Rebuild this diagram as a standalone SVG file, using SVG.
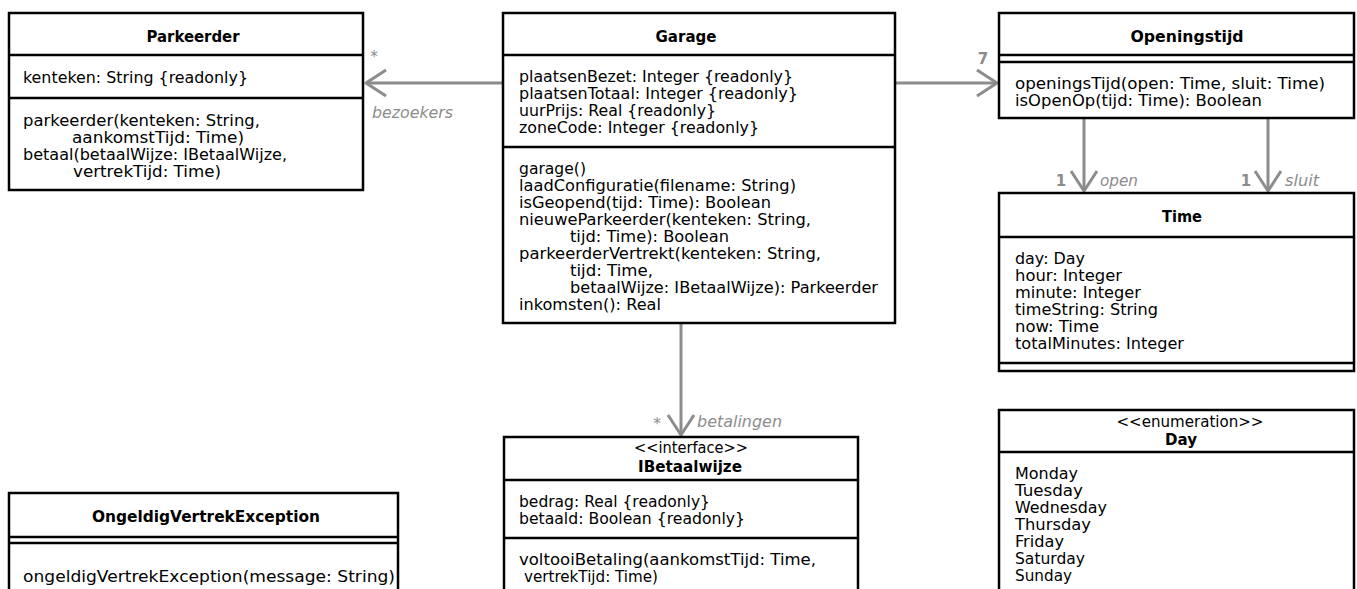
<svg xmlns="http://www.w3.org/2000/svg" width="1357" height="589" viewBox="0 0 1357 589">
<style>
.box{fill:#fff;stroke:#000;stroke-width:2.5}
.sep{stroke:#000;stroke-width:2.5}
.t{font-family:"DejaVu Sans","Liberation Sans",sans-serif;font-size:15.5px;fill:#000}
.h{font-family:"DejaVu Sans","Liberation Sans",sans-serif;font-size:15px;font-weight:bold;fill:#000;text-anchor:middle}
.st{text-anchor:middle}
.conn{stroke:#8c8c8c;stroke-width:3;fill:none;marker-end:url(#arr)}
.lbl{font-family:"DejaVu Sans","Liberation Sans",sans-serif;font-size:15.5px;fill:#8c8c8c}
.it{font-style:italic}
.m{font-weight:bold;text-anchor:middle;font-size:15px}
</style>
<defs>
<marker id="arr" markerUnits="userSpaceOnUse" markerWidth="30" markerHeight="30" refX="22" refY="15" orient="auto" viewBox="0 0 30 30">
<path d="M2,2 L22,15 L2,28" fill="none" stroke="#8c8c8c" stroke-width="3" stroke-linejoin="round"/>
</marker>
</defs>
<rect width="1357" height="589" fill="#fff"/>

<g id="connectors">
<path class="conn" d="M503,83 H366"/>
<path class="conn" d="M895,83 H997"/>
<path class="conn" d="M1084,118 V191"/>
<path class="conn" d="M1268,118 V191"/>
<path class="conn" d="M681,323 V435"/>
<text class="lbl st" x="374" y="62">*</text>
<text class="lbl it" x="372" y="118" textLength="81" lengthAdjust="spacingAndGlyphs">bezoekers</text>
<text class="lbl m" x="983" y="64">7</text>
<text class="lbl m" x="1061" y="186">1</text>
<text class="lbl it" x="1100" y="186" textLength="38" lengthAdjust="spacingAndGlyphs">open</text>
<text class="lbl m" x="1246" y="186">1</text>
<text class="lbl it" x="1285" y="186" textLength="34" lengthAdjust="spacingAndGlyphs">sluit</text>
<text class="lbl st" x="657" y="429">*</text>
<text class="lbl it" x="697" y="427" textLength="85" lengthAdjust="spacingAndGlyphs">betalingen</text>
</g>

<g id="Parkeerder">
<rect class="box" x="9" y="13" width="354" height="177"/>
<line class="sep" x1="9" y1="55" x2="363" y2="55"/>
<line class="sep" x1="9" y1="98" x2="363" y2="98"/>
<text class="h" x="193" y="42" textLength="93" lengthAdjust="spacingAndGlyphs">Parkeerder</text>
<text class="t" x="23" y="83" textLength="225" lengthAdjust="spacingAndGlyphs">kenteken: String {readonly}</text>
<text class="t" x="23" y="126" textLength="237" lengthAdjust="spacingAndGlyphs">parkeerder(kenteken: String,</text>
<text class="t" x="72" y="143" textLength="172" lengthAdjust="spacingAndGlyphs">aankomstTijd: Time)</text>
<text class="t" x="23" y="160" textLength="264" lengthAdjust="spacingAndGlyphs">betaal(betaalWijze: IBetaalWijze,</text>
<text class="t" x="73" y="177" textLength="148" lengthAdjust="spacingAndGlyphs">vertrekTijd: Time)</text>
</g>

<g id="Garage">
<rect class="box" x="503" y="13" width="392" height="310"/>
<line class="sep" x1="503" y1="55" x2="895" y2="55"/>
<line class="sep" x1="503" y1="147" x2="895" y2="147"/>
<text class="h" x="686" y="42" textLength="61" lengthAdjust="spacingAndGlyphs">Garage</text>
<text class="t" x="519" y="82" textLength="274" lengthAdjust="spacingAndGlyphs">plaatsenBezet: Integer {readonly}</text>
<text class="t" x="519" y="99" textLength="279" lengthAdjust="spacingAndGlyphs">plaatsenTotaal: Integer {readonly}</text>
<text class="t" x="519" y="116" textLength="197" lengthAdjust="spacingAndGlyphs">uurPrijs: Real {readonly}</text>
<text class="t" x="519" y="133" textLength="240" lengthAdjust="spacingAndGlyphs">zoneCode: Integer {readonly}</text>
<text class="t" x="519" y="174" textLength="67" lengthAdjust="spacingAndGlyphs">garage()</text>
<text class="t" x="519" y="191" textLength="277" lengthAdjust="spacingAndGlyphs">laadConfiguratie(filename: String)</text>
<text class="t" x="519" y="208" textLength="252" lengthAdjust="spacingAndGlyphs">isGeopend(tijd: Time): Boolean</text>
<text class="t" x="519" y="225" textLength="292" lengthAdjust="spacingAndGlyphs">nieuweParkeerder(kenteken: String,</text>
<text class="t" x="570" y="242" textLength="159" lengthAdjust="spacingAndGlyphs">tijd: Time): Boolean</text>
<text class="t" x="519" y="259" textLength="302" lengthAdjust="spacingAndGlyphs">parkeerderVertrekt(kenteken: String,</text>
<text class="t" x="570" y="276" textLength="83" lengthAdjust="spacingAndGlyphs">tijd: Time,</text>
<text class="t" x="570" y="293" textLength="308" lengthAdjust="spacingAndGlyphs">betaalWijze: IBetaalWijze): Parkeerder</text>
<text class="t" x="519" y="310" textLength="142" lengthAdjust="spacingAndGlyphs">inkomsten(): Real</text>
</g>

<g id="Openingstijd">
<rect class="box" x="999" y="13" width="355" height="105"/>
<line class="sep" x1="999" y1="55" x2="1354" y2="55"/>
<line class="sep" x1="999" y1="62" x2="1354" y2="62"/>
<text class="h" x="1187" y="42" textLength="113" lengthAdjust="spacingAndGlyphs">Openingstijd</text>
<text class="t" x="1015" y="89" textLength="310" lengthAdjust="spacingAndGlyphs">openingsTijd(open: Time, sluit: Time)</text>
<text class="t" x="1015" y="106" textLength="247" lengthAdjust="spacingAndGlyphs">isOpenOp(tijd: Time): Boolean</text>
</g>

<g id="Time">
<rect class="box" x="999" y="193" width="355" height="178"/>
<line class="sep" x1="999" y1="237" x2="1354" y2="237"/>
<line class="sep" x1="999" y1="363" x2="1354" y2="363"/>
<text class="h" x="1182" y="222" textLength="40" lengthAdjust="spacingAndGlyphs">Time</text>
<text class="t" x="1015" y="264" textLength="70" lengthAdjust="spacingAndGlyphs">day: Day</text>
<text class="t" x="1015" y="281" textLength="107" lengthAdjust="spacingAndGlyphs">hour: Integer</text>
<text class="t" x="1015" y="298" textLength="126" lengthAdjust="spacingAndGlyphs">minute: Integer</text>
<text class="t" x="1015" y="315" textLength="143" lengthAdjust="spacingAndGlyphs">timeString: String</text>
<text class="t" x="1015" y="332" textLength="84" lengthAdjust="spacingAndGlyphs">now: Time</text>
<text class="t" x="1015" y="349" textLength="169" lengthAdjust="spacingAndGlyphs">totalMinutes: Integer</text>
</g>

<g id="Day">
<rect class="box" x="999" y="410" width="355" height="200"/>
<line class="sep" x1="999" y1="452" x2="1354" y2="452"/>
<text class="t st" x="1190" y="427" textLength="147" lengthAdjust="spacingAndGlyphs">&lt;&lt;enumeration&gt;&gt;</text>
<text class="h" x="1181" y="445" textLength="32" lengthAdjust="spacingAndGlyphs">Day</text>
<text class="t" x="1015" y="479" textLength="63" lengthAdjust="spacingAndGlyphs">Monday</text>
<text class="t" x="1015" y="496" textLength="68" lengthAdjust="spacingAndGlyphs">Tuesday</text>
<text class="t" x="1015" y="513" textLength="92" lengthAdjust="spacingAndGlyphs">Wednesday</text>
<text class="t" x="1015" y="530" textLength="76" lengthAdjust="spacingAndGlyphs">Thursday</text>
<text class="t" x="1015" y="547" textLength="49" lengthAdjust="spacingAndGlyphs">Friday</text>
<text class="t" x="1015" y="564" textLength="70" lengthAdjust="spacingAndGlyphs">Saturday</text>
<text class="t" x="1015" y="581" textLength="57" lengthAdjust="spacingAndGlyphs">Sunday</text>
</g>

<g id="IBetaalwijze">
<rect class="box" x="504" y="437" width="354" height="170"/>
<line class="sep" x1="504" y1="480" x2="858" y2="480"/>
<line class="sep" x1="504" y1="538" x2="858" y2="538"/>
<text class="t st" x="691" y="453" textLength="114" lengthAdjust="spacingAndGlyphs">&lt;&lt;interface&gt;&gt;</text>
<text class="h" x="690" y="472" textLength="104" lengthAdjust="spacingAndGlyphs">IBetaalwijze</text>
<text class="t" x="519" y="507" textLength="191" lengthAdjust="spacingAndGlyphs">bedrag: Real {readonly}</text>
<text class="t" x="519" y="524" textLength="226" lengthAdjust="spacingAndGlyphs">betaald: Boolean {readonly}</text>
<text class="t" x="519" y="565" textLength="297" lengthAdjust="spacingAndGlyphs">voltooiBetaling(aankomstTijd: Time,</text>
<text class="t" x="524" y="582" textLength="134" lengthAdjust="spacingAndGlyphs">vertrekTijd: Time)</text>
</g>

<g id="OngeldigVertrekException">
<rect class="box" x="9" y="493" width="389" height="110"/>
<line class="sep" x1="9" y1="537" x2="398" y2="537"/>
<line class="sep" x1="9" y1="543" x2="398" y2="543"/>
<text class="h" x="206" y="522" textLength="228" lengthAdjust="spacingAndGlyphs">OngeldigVertrekException</text>
<text class="t" x="23" y="582" textLength="372" lengthAdjust="spacingAndGlyphs">ongeldigVertrekException(message: String)</text>
</g>
</svg>
